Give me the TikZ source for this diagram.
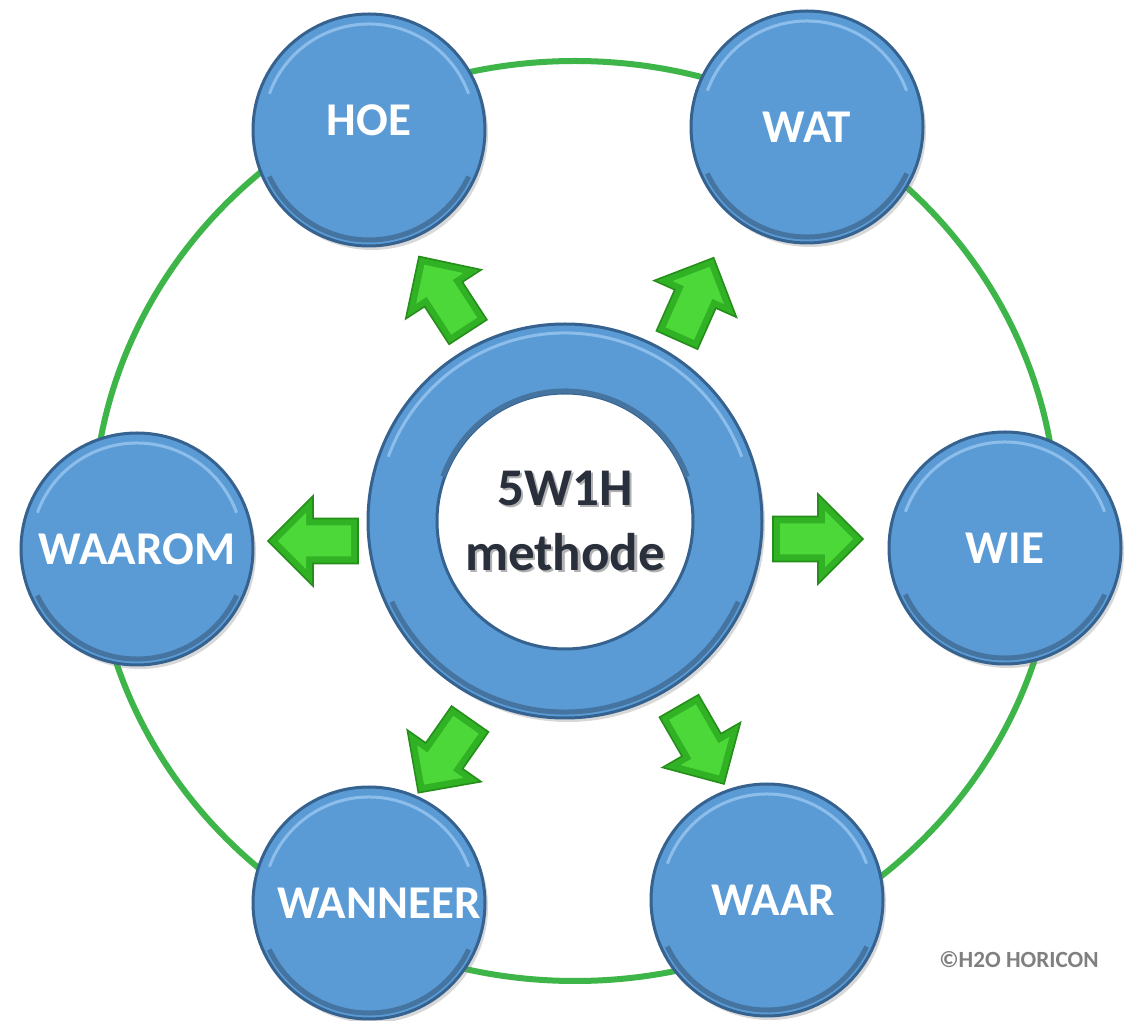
\documentclass[tikz,border=0pt]{standalone}
\usepackage{fontspec}
\setmainfont{Carlito}
\usepackage{tikz}
\usetikzlibrary{shadows}
\definecolor{circ_blue}{HTML}{5B9BD5}
\definecolor{circ_edge}{HTML}{35628F}
\definecolor{circ_shade}{HTML}{44749F}
\definecolor{circ_glint}{HTML}{8DBEEB}
\definecolor{ring_green}{HTML}{3DB549}
\definecolor{arrow_edge}{HTML}{268F1B}
\definecolor{arrow_face}{HTML}{30B224}
\definecolor{arrow_light}{HTML}{4DD83A}
\definecolor{core_text}{HTML}{2A303B}
\definecolor{credit_grey}{HTML}{808080}

% block arrow: tail centre, direction
\newcommand{\greenarrow}[2]{%
  \begin{scope}[shift={#1}, rotate=#2]
    \filldraw[fill=arrow_face, draw=arrow_edge, line width=0.8pt] (0,-22.5) -- (45,-22.5) -- (45,-45) -- (90,0) -- (45,45) -- (45,22.5) -- (0,22.5) -- cycle;
    \fill[arrow_light] (7,-15.5) -- (52,-15.5) -- (52,-28.1) -- (80.1,0) -- (52,28.1) -- (52,15.5) -- (7,15.5) -- cycle;
  \end{scope}}

\begin{document}
\begin{tikzpicture}[x=0.5pt, y=-0.5pt,
    wcircle/.style={circle, minimum size=116pt, inner sep=0pt, fill=circ_blue, draw=circ_edge, line width=1.5pt,
      text=white, font=\bfseries\fontsize{23.5}{28}\selectfont,
      drop shadow={shadow xshift=1.5pt, shadow yshift=-2pt, opacity=0.3}},
    glint/.style={circ_glint, line width=1.5pt},
    shade/.style={circ_shade, line width=2.5pt},
    coreouter/.style={circle, minimum size=197pt, inner sep=0pt, fill=circ_blue, draw=circ_edge, line width=1.5pt,
      drop shadow={shadow xshift=1.5pt, shadow yshift=-2pt, opacity=0.3}},
    corehole/.style={circle, minimum size=128pt, inner sep=0pt, fill=white, draw=circ_edge, line width=1.5pt},
    coretext/.style={align=center, text=core_text, font=\bfseries\fontsize{26.5}{32.5}\selectfont}]

    % canvas
    \fill[white] (0,0) rectangle (1132,1021);
    \useasboundingbox (0,0) rectangle (1132,1021);

    % green ring behind the circles
    \draw[ring_green, line width=3pt] (575,521) ellipse [x radius=482, y radius=460];

    % arrows pointing out from the centre
    \greenarrow{(468,332)}{123}
    \greenarrow{(677,340)}{66}
    \greenarrow{(358,541)}{180}
    \greenarrow{(773,539)}{0}
    \greenarrow{(470,719)}{235}
    \greenarrow{(679,706)}{-60}

    % the six questions
    \node[wcircle] (hoe) at (369,130) {\raisebox{5pt}[\height][\depth]{HOE}};
    \node[wcircle] (wat) at (807,127) {WAT};
    \node[wcircle] (waarom) at (137,549) {WAAROM};
    \node[wcircle] (wie) at (1005,548) {WIE};
    \node[wcircle] (wanneer) at (369,903) {\hspace*{10pt}WANNEER};
    \node[wcircle] (waar) at (767,900) {\hspace*{6pt}WAAR};
    \foreach \n in {hoe,wat,waarom,wie,wanneer,waar} {
      \draw[glint] (\n.center) ++(200:106) arc (200:340:106);
      \draw[shade] (\n.center) ++(25:110) arc (25:155:110);
    }

    % centre ring
    \node[coreouter] (core) at (565,521) {};
    \draw[glint] (core.center) ++(200:188) arc (200:340:188);
    \draw[shade] (core.center) ++(25:191) arc (25:155:191);
    \node[corehole] (hole) at (core.center) {};
    \draw[shade] (hole.center) ++(200:130) arc (200:340:130);
    \node[coretext, text=black!30] at ([shift={(1.2pt,-1.2pt)}]hole.center) {5W1H\\methode};
    \node[coretext] (title) at (hole.center) {5W1H\\methode};

    % credit
    \node[text=credit_grey, font=\bfseries\fontsize{11.6}{14}\selectfont] (credit) at (1019,960) {©H2O HORICON};
\end{tikzpicture}
\end{document}
